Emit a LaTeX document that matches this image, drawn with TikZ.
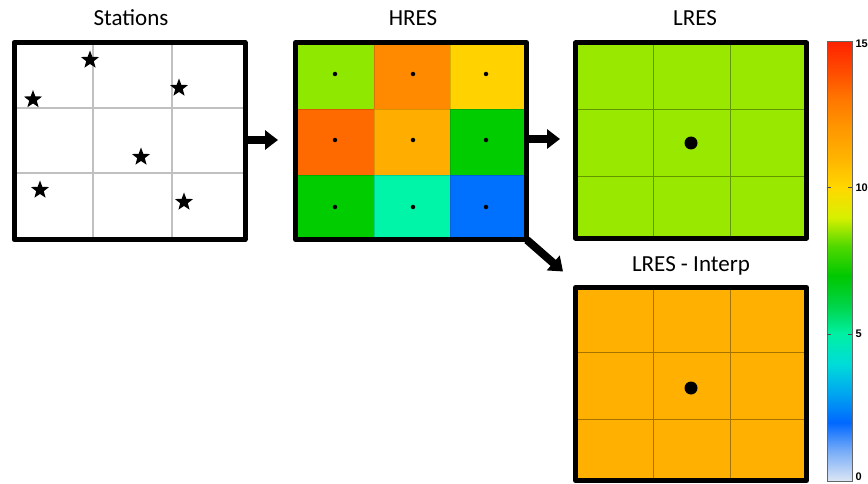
\documentclass[tikz,border=0pt]{standalone}
\usepackage{fontspec}
\setmainfont{Carlito}
\newfontfamily\cbfont{Liberation Sans}
\usetikzlibrary{arrows.meta,shapes.geometric,calc}
\definecolor{hA}{HTML}{8EE800}
\definecolor{hB}{HTML}{FF8A00}
\definecolor{hC}{HTML}{FFD200}
\definecolor{hD}{HTML}{FF6A00}
\definecolor{hE}{HTML}{FFAE00}
\definecolor{hF}{HTML}{00CC00}
\definecolor{hG}{HTML}{00CC00}
\definecolor{hH}{HTML}{00F5A8}
\definecolor{hI}{HTML}{0070FF}
\definecolor{lresfill}{HTML}{99E800}
\definecolor{interpfill}{HTML}{FFB000}
\definecolor{gridgray}{HTML}{C0C0C0}
\definecolor{cb0}{HTML}{DCE6F4}
\definecolor{cb1}{HTML}{7AAEF8}
\definecolor{cb2}{HTML}{0068FF}
\definecolor{cb3}{HTML}{00A6F0}
\definecolor{cb4}{HTML}{00DCD8}
\definecolor{cb5}{HTML}{00F0A4}
\definecolor{cb6}{HTML}{00D448}
\definecolor{cb7}{HTML}{00C800}
\definecolor{cb8}{HTML}{50D800}
\definecolor{cb9}{HTML}{D8F000}
\definecolor{cb10}{HTML}{FFD800}
\definecolor{cb11}{HTML}{FFB400}
\definecolor{cb12}{HTML}{FF9800}
\definecolor{cb13}{HTML}{FF7800}
\definecolor{cb14}{HTML}{FF4A00}
\definecolor{cb15}{HTML}{FF2200}
\tikzset{
  panel/.style={draw=black, line width=5pt, line join=round, rectangle, minimum width=231pt, minimum height=197pt, inner sep=0pt},
  title/.style={font=\fontsize{23}{26}\selectfont, inner sep=0pt},
  bigarrow/.style={line width=8pt, -{Triangle[width=19pt,length=13pt]}},
  stationstar/.style={star, star points=5, star point ratio=2.4, fill=black, minimum size=19pt, inner sep=0pt},
  hdot/.style={circle, fill=black, minimum size=4.5pt, inner sep=0pt},
  ldot/.style={circle, fill=black, minimum size=13pt, inner sep=0pt},
  cblabel/.style={font=\cbfont\bfseries\fontsize{11}{12}\selectfont, anchor=west, inner sep=0pt},
  thingrid/.style={line width=0.6pt, draw=black, draw opacity=0.35}
}
\begin{document}
\begin{tikzpicture}[x=1pt,y=-1pt]
\useasboundingbox (0,0) rectangle (868,484);
% titles
\node[title] (tst) at (131,18) {Stations};
\node[title] (thr) at (413,18) {HRES};
\node[title] (tlr) at (695,18) {LRES};
\node[title] (tli) at (691,266) {LRES - Interp};
% ---------- Stations
\coordinate (stc) at (129.5,141);
\fill[white] (14.5,42.5) rectangle (244.5,239.5);
\draw[gridgray, line width=1.5pt] (93,42.5) -- (93,239.5) (172,42.5) -- (172,239.5)
  (14.5,108) -- (244.5,108) (14.5,173) -- (244.5,173);
\node[stationstar] (s1) at (90,60) {};
\node[stationstar] (s2) at (179,88) {};
\node[stationstar] (s3) at (33,99.5) {};
\node[stationstar] (s4) at (141,157) {};
\node[stationstar] (s5) at (40,190) {};
\node[stationstar] (s6) at (184,202) {};
\node[panel] (st) at (stc) {};
% ---------- HRES
\fill[hA] (296.5,42.5) rectangle (374,109);
\fill[hB] (374,42.5) rectangle (450,109);
\fill[hC] (450,42.5) rectangle (525.5,109);
\fill[hD] (296.5,109) rectangle (374,175);
\fill[hE] (374,109) rectangle (450,175);
\fill[hF] (450,109) rectangle (525.5,175);
\fill[hG] (296.5,175) rectangle (374,239.5);
\fill[hH] (374,175) rectangle (450,239.5);
\fill[hI] (450,175) rectangle (525.5,239.5);
\draw[line width=0.4pt, black, draw opacity=0.15] (374,42.5) -- (374,239.5) (450,42.5) -- (450,239.5)
  (296.5,109) -- (525.5,109) (296.5,175) -- (525.5,175);
\foreach \i/\x in {1/335,2/413,3/486}
  \foreach \j/\y in {1/74,2/140,3/207}
    \node[hdot] (hd\i\j) at (\x,\y) {};
\node[panel] (hres) at (411,141) {};
% ---------- LRES
\fill[lresfill] (575.5,43) rectangle (806.5,238);
\draw[thingrid] (653,43) -- (653,238) (730,43) -- (730,238)
  (575.5,109) -- (806.5,109) (575.5,176) -- (806.5,176);
\node[ldot] (ld) at (691,143) {};
\node[panel, minimum height=195pt] (lres) at (691,140.5) {};
% ---------- LRES - Interp
\fill[interpfill] (575.5,287.5) rectangle (806.5,480.5);
\draw[thingrid] (653,287.5) -- (653,480.5) (730,287.5) -- (730,480.5)
  (575.5,352) -- (806.5,352) (575.5,419) -- (806.5,419);
\node[ldot] (id) at (691,388) {};
\node[panel, minimum height=193pt] (interp) at (691,384) {};
% ---------- arrows
\coordinate (a3) at (563,271.5);
\draw[bigarrow, shorten >=15pt] (st.east |- 0,140) -- (hres.west |- 0,140);
\draw[bigarrow, shorten >=13pt] (hres.east |- 0,139) -- (lres.west |- 0,139);
\draw[bigarrow] ($(hres.south east)+(-2,-2)$) -- (a3);
% ---------- colour bar
\foreach \v [evaluate=\v as \w using int(\v+1)] in {0,...,14}
  \shade[top color=cb\w, bottom color=cb\v] (827,{481-29.333*\v}) rectangle (852,{481-29.333*(\v+1)+0.3});
\node[draw=black!60, line width=0.8pt, minimum width=25pt, minimum height=440pt, inner sep=0pt] (cbar) at (839.5,261) {};
\draw[black!70, line width=0.8pt] (827,187.7) -- (831,187.7) (848,187.7) -- (852,187.7)
  (827,334.3) -- (831,334.3) (848,334.3) -- (852,334.3);
\node[cblabel] (l15) at (855.3,44) {15};
\node[cblabel] (l10) at (855.3,188) {10};
\node[cblabel] (l5) at (855.3,334) {5};
\node[cblabel] (l0) at (855.3,477) {0};
\end{tikzpicture}
\end{document}
